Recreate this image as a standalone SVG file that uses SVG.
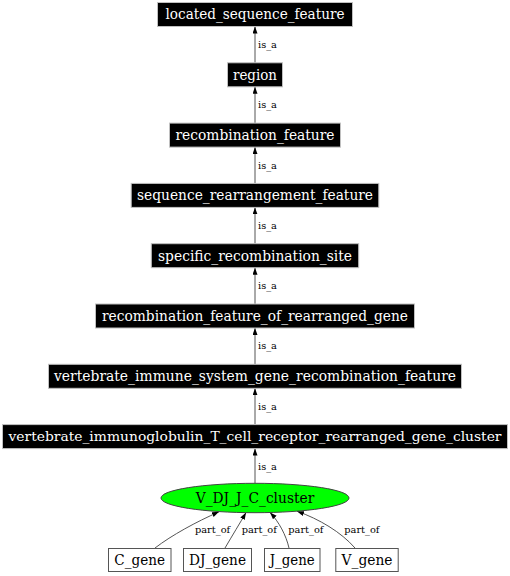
<svg xmlns="http://www.w3.org/2000/svg" width="510" height="576" viewBox="0 0 510 576">
<style>
text { font-family: "DejaVu Serif", "Liberation Serif", serif; }
.blk rect { fill: #000000; stroke: #c0c0c0; stroke-width: 1; }
.blk text { fill: #ffffff; font-size: 14px; text-anchor: middle; }
.gene rect { fill: #ffffff; stroke: #555555; stroke-width: 1; }
.gene text { fill: #000000; font-size: 14px; text-anchor: middle; }
.edge { fill: none; stroke: #555555; stroke-width: 1; marker-end: url(#arr); }
.lbl { font-size: 9.8px; fill: #000000; }
</style>
<defs>
<marker id="arr" markerUnits="userSpaceOnUse" markerWidth="8" markerHeight="6" refX="7" refY="2.5" orient="auto">
<path d="M0,0 L7,2.5 L0,5 Z" fill="#000000"/>
</marker>
</defs>
<rect width="510" height="576" fill="#ffffff"/>
<g id="connectors">
<path class="edge" d="M255,62.8 L255,26.5"/>
<text class="lbl" x="258" y="48">is_a</text>
<path class="edge" d="M255,123.1 L255,86.8"/>
<text class="lbl" x="258" y="108">is_a</text>
<path class="edge" d="M255,183.4 L255,147.1"/>
<text class="lbl" x="258" y="168.5">is_a</text>
<path class="edge" d="M255,243.7 L255,207.4"/>
<text class="lbl" x="258" y="228.5">is_a</text>
<path class="edge" d="M255,304 L255,267.7"/>
<text class="lbl" x="258" y="289">is_a</text>
<path class="edge" d="M255,364.3 L255,328"/>
<text class="lbl" x="258" y="349">is_a</text>
<path class="edge" d="M255,424.6 L255,388.3"/>
<text class="lbl" x="258" y="409.5">is_a</text>
<path class="edge" d="M255,483.2 L255,448.6"/>
<text class="lbl" x="258" y="469.5">is_a</text>
<path class="edge" d="M155,548 C172,535 196,522 219,511.8"/>
<text class="lbl" x="195" y="533">part_of</text>
<path class="edge" d="M225,548 C232,536 240,523 246,512.6"/>
<text class="lbl" x="241.7" y="533">part_of</text>
<path class="edge" d="M289,548 C286,535 279,522 270,512.4"/>
<text class="lbl" x="288.3" y="533">part_of</text>
<path class="edge" d="M355,548 C341,532 319,519 297,511.2"/>
<text class="lbl" x="344.3" y="533">part_of</text>
</g>
<g id="located_sequence_feature" class="blk">
<rect x="157.5" y="2.5" width="195" height="24"/>
<text x="255" y="19.3" textLength="179" lengthAdjust="spacingAndGlyphs">located_sequence_feature</text>
</g>
<g id="region" class="blk">
<rect x="227.5" y="62.8" width="55" height="24"/>
<text x="255" y="79.6" textLength="44" lengthAdjust="spacingAndGlyphs">region</text>
</g>
<g id="recombination_feature" class="blk">
<rect x="169.5" y="123.1" width="171" height="24"/>
<text x="255" y="139.9" textLength="159" lengthAdjust="spacingAndGlyphs">recombination_feature</text>
</g>
<g id="sequence_rearrangement_feature" class="blk">
<rect x="131.2" y="183.4" width="247.6" height="24"/>
<text x="255" y="200.2" textLength="236" lengthAdjust="spacingAndGlyphs">sequence_rearrangement_feature</text>
</g>
<g id="specific_recombination_site" class="blk">
<rect x="151.3" y="243.7" width="207.4" height="24"/>
<text x="255" y="260.5" textLength="194" lengthAdjust="spacingAndGlyphs">specific_recombination_site</text>
</g>
<g id="recombination_feature_of_rearranged_gene" class="blk">
<rect x="95.5" y="304" width="319" height="24"/>
<text x="255" y="320.8" textLength="306" lengthAdjust="spacingAndGlyphs">recombination_feature_of_rearranged_gene</text>
</g>
<g id="vertebrate_immune_system_gene_recombination_feature" class="blk">
<rect x="48.5" y="364.3" width="413" height="24"/>
<text x="255" y="381.1" textLength="402" lengthAdjust="spacingAndGlyphs">vertebrate_immune_system_gene_recombination_feature</text>
</g>
<g id="vertebrate_immunoglobulin_T_cell_receptor_rearranged_gene_cluster" class="blk">
<rect x="2.5" y="424.6" width="505" height="24"/>
<text x="255" y="441.4" font-size="13.4px" style="font-size:13.4px" textLength="493" lengthAdjust="spacingAndGlyphs">vertebrate_immunoglobulin_T_cell_receptor_rearranged_gene_cluster</text>
</g>
<g id="V_DJ_J_C_cluster">
<ellipse cx="255" cy="498" rx="94" ry="14.7" fill="#00ff00" stroke="#444444" stroke-width="1"/>
<text x="255" y="502.8" font-size="14px" text-anchor="middle" textLength="118.6" lengthAdjust="spacingAndGlyphs">V_DJ_J_C_cluster</text>
</g>
<g id="C_gene" class="gene">
<rect x="108.5" y="548.5" width="62.5" height="23"/>
<text x="139.7" y="564.8" textLength="50.7" lengthAdjust="spacingAndGlyphs">C_gene</text>
</g>
<g id="DJ_gene" class="gene">
<rect x="183.5" y="548.5" width="68" height="23"/>
<text x="217.5" y="564.8" textLength="57" lengthAdjust="spacingAndGlyphs">DJ_gene</text>
</g>
<g id="J_gene" class="gene">
<rect x="264.5" y="548.5" width="55.5" height="23"/>
<text x="292.2" y="564.8" textLength="45" lengthAdjust="spacingAndGlyphs">J_gene</text>
</g>
<g id="V_gene" class="gene">
<rect x="335.8" y="548.5" width="62.4" height="23"/>
<text x="367" y="564.8" textLength="51" lengthAdjust="spacingAndGlyphs">V_gene</text>
</g>
</svg>
